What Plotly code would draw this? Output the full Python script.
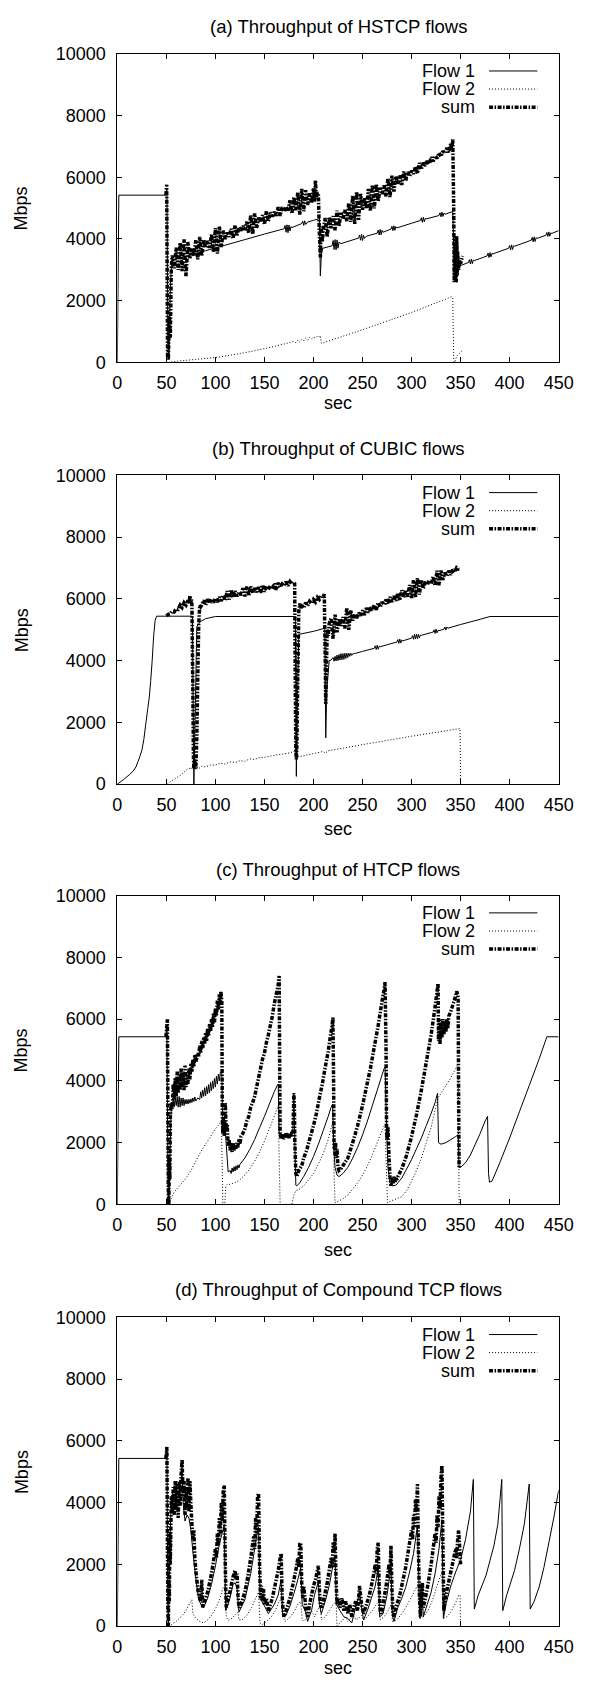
import plotly.graph_objects as go

# ---------------- data (seconds, Mbps) ----------------
X_TICKS = [0, 50, 100, 150, 200, 250, 300, 350, 400, 450]
Y_TICKS = [0, 2000, 4000, 6000, 8000, 10000]
TITLES = ["(a) Throughput of HSTCP flows", "(b) Throughput of CUBIC flows",
          "(c) Throughput of HTCP flows", "(d) Throughput of Compound TCP flows"]
SERIES_NAMES = ["Flow 1", "Flow 2", "sum"]

A_FLOW1 = [(0,0),(1.5,5420),(49.5,5420),(50.5,5650),(51.5,900),(52.5,100),(54,2400),(55.5,3320),(70,3440),(90,3620),(110,3800),(130,3980),(150,4160),(170,4330),(171,4440),(172,4220),(173,4460),(174,4200),(175,4450),(176,4260),(177,4400),(178,4370),(188,4500),(189,4580),(190,4440),(191,4590),(192,4470),(194,4550),(200,4605),(205,4650),(206,4680),(207,2800),(208,3500),(209.5,3700),(219,3780),(220,3950),(221,3660),(222,3980),(223,3650),(224,3970),(225,3700),(226,3900),(228,3850),(246,4030),(247,4130),(248,3960),(249,4150),(250,3950),(251,4120),(252,4020),(254,4090),(265,4190),(266,4290),(267,4130),(268,4310),(269,4140),(270,4280),(271,4220),(279,4320),(280,4410),(281,4270),(282,4430),(283,4280),(284,4400),(285,4360),(300,4510),(309,4600),(310,4690),(311,4540),(312,4700),(313,4560),(314,4670),(315,4650),(328,4760),(329,4850),(330,4720),(331,4870),(332,4730),(333,4840),(334,4800),(341,4880),(342,4900),(343,3800),(344,2700),(345,3600),(346,2600),(347,3900),(348,3000),(349,3150),(351,3150),(358,3240),(359,3330),(360,3190),(361,3350),(362,3200),(363,3320),(364,3300),(377,3450),(378,3540),(379,3400),(380,3560),(381,3420),(382,3530),(383,3520),(399,3700),(400,3790),(401,3650),(402,3810),(403,3660),(404,3780),(405,3765),(422,3960),(423,4050),(424,3910),(425,4070),(426,3920),(427,4040),(428,4020),(437,4120),(438,4210),(439,4080),(440,4230),(441,4090),(442,4200),(443,4180),(450,4270)]
A_FLOW2 = [(52,0),(60,40),(80,100),(100,160),(120,260),(140,380),(160,520),(170,600),(180,680),(182,640),(184,720),(186,660),(188,740),(190,700),(192,780),(194,720),(196,810),(198,760),(200,820),(202,790),(204,860),(206,840),(207,870),(208,620),(210,640),(250,1060),(300,1620),(341,2130),(342,2100),(343,60),(344,0),(346,200),(348,270),(350,330),(353,420)]
A_SUM = [(49.5,5420),(50.3,5760),(51.2,200),(52,100),(53,1500),(54,800),(55,3100),(56,3470),(58,3050),(60,3720),(62,3000),(64,3880),(66,2960),(68,3990),(70,2800),(72,3900),(74,3380),(76,3710),(78,3440),(80,3960),(82,3340),(84,4070),(86,3450),(88,3980),(90,3710),(92,3940),(94,3720),(96,4150),(98,3570),(100,4350),(102,3530),(104,4410),(106,3740),(108,4270),(110,4000),(112,4210),(114,4070),(116,4330),(118,4010),(120,4440),(122,4120),(124,4380),(126,4270),(128,4420),(130,4300),(132,4560),(134,4190),(136,4770),(138,4150),(140,4830),(142,4360),(144,4690),(146,4540),(148,4770),(150,4470),(152,4900),(154,4580),(156,4860),(158,4730),(160,4880),(162,4750),(164,5030),(166,4750),(168,5030),(170,4900),(172,5050),(174,4920),(176,5250),(178,4820),(180,5350),(182,4930),(184,5510),(186,4790),(188,5620),(190,4900),(192,5580),(194,5100),(196,5480),(198,5160),(200,5640),(201,5200),(202,5900),(203,5300),(204,5500),(205,5450),(206,4200),(207,3400),(208,4400),(209,3900),(210,4300),(212,4680),(214,4070),(216,4710),(218,4350),(220,4740),(222,4280),(224,4920),(226,4410),(228,4850),(230,4650),(232,4940),(234,4580),(236,5170),(238,4560),(240,5400),(242,4490),(244,5530),(246,4620),(248,5460),(250,4950),(252,5340),(254,4980),(256,5620),(258,4910),(260,5750),(262,4990),(264,5780),(266,5220),(268,5660),(270,5450),(272,5740),(274,5380),(276,5970),(278,5360),(280,6050),(282,5540),(284,6030),(286,5770),(288,6060),(290,5750),(292,6190),(294,5880),(296,6170),(298,6030),(300,6210),(302,6110),(304,6350),(306,6120),(308,6460),(310,6250),(312,6470),(314,6370),(316,6530),(318,6430),(320,6650),(322,6510),(324,6690),(326,6610),(328,6790),(330,6670),(332,6850),(334,6770),(336,6950),(338,6810),(340,7100),(341,6900),(342,7250),(343,5000),(343.5,2600),(344,4100),(344.5,2700),(345,3900),(345.5,2600),(346,4100),(346.5,2800),(347,3600),(348,3000),(349,3300),(350,3200),(352,3450)]

B_FLOW1 = [(0,0),(6,140),(12,300),(16,420),(19,560),(21,730),(23,900),(25,1100),(27,1450),(29,1950),(31,2450),(32.5,2800),(34,3350),(35.5,4000),(37,4800),(38.5,5300),(40,5440),(76.5,5440),(78,0),(79.5,2500),(81,5100),(84,5250),(90,5360),(100,5430),(181.5,5430),(182.5,250),(183.5,2500),(185,4850),(200,4950),(211.5,5050),(212.5,1500),(213.5,3000),(216,4000),(218,4020),(220,4100),(221,3980),(222,4140),(223,3990),(224,4180),(225,4000),(226,4200),(227,4020),(228,4230),(229,4030),(230,4230),(231,4040),(232,4240),(233,4070),(234,4240),(235,4100),(236,4240),(237,4140),(238,4240),(239,4170),(240,4220),(242,4230),(250,4300),(262,4400),(263,4480),(264,4360),(265,4500),(266,4370),(267,4470),(268,4450),(280,4560),(285,4600),(286,4680),(287,4560),(288,4700),(289,4570),(290,4670),(291,4640),(300,4730),(301,4810),(302,4690),(303,4850),(304,4700),(305,4860),(306,4710),(307,4850),(308,4740),(309,4830),(310,4820),(320,4910),(322,4925),(323,5000),(324,4880),(325,5020),(326,4900),(327,4980),(328,4970),(333,5020),(334,5090),(335,4990),(336,5090),(337,5050),(350,5170),(370,5340),(380,5430),(450,5430)]
B_FLOW2 = [(51,0),(55,100),(60,200),(65,300),(70,450),(73,520),(75,480),(76,550),(77,500),(78,530),(80,480),(82,560),(84,520),(86,580),(90,560),(95,620),(100,620),(105,680),(110,650),(115,720),(120,700),(125,760),(130,740),(135,820),(140,800),(145,860),(150,870),(155,900),(160,930),(165,960),(170,980),(175,1010),(180,1050),(181,1100),(182,1000),(184,880),(190,920),(200,990),(210,1060),(212,1000),(215,1080),(250,1280),(300,1550),(349.5,1800),(350,0)]
B_SUM = [(50,5450),(52,5500),(54,5520),(56,5600),(58,5580),(60,5680),(62,5660),(64,5800),(66,5720),(68,5880),(70,5800),(72,5950),(73,5870),(74,6100),(75,5900),(75.5,6000),(76,5800),(77,3000),(77.5,1000),(78,500),(79,800),(80,500),(81,1500),(82,3500),(83,5200),(84,5800),(85,5750),(86,5800),(88,5950),(90,5800),(92,5990),(94,5850),(96,6000),(98,5880),(100,6020),(102,5900),(104,6060),(106,5930),(108,6120),(110,5950),(112,6250),(114,5980),(116,6300),(118,6040),(120,6250),(122,6080),(124,6230),(126,6120),(128,6350),(130,6080),(132,6400),(134,6100),(136,6400),(138,6180),(140,6350),(142,6220),(144,6380),(146,6200),(148,6450),(150,6230),(152,6420),(154,6300),(156,6430),(158,6320),(160,6500),(162,6300),(164,6520),(166,6380),(168,6480),(170,6420),(172,6560),(174,6430),(176,6560),(178,6480),(180,6550),(180.8,6500),(181.5,3000),(182,1100),(182.5,800),(183,1200),(184,3500),(185,5600),(186,5850),(187,5700),(188,5800),(190,5700),(192,5880),(194,5780),(196,5920),(198,5850),(200,5980),(202,5900),(204,6050),(206,5980),(208,6100),(210,6080),(211,6150),(212,4000),(212.5,2600),(213,3500),(214,5000),(215,4800),(216,5200),(218,5380),(220,4710),(222,5490),(224,4920),(226,5350),(228,5130),(230,5410),(232,5040),(234,5720),(236,5000),(238,5630),(240,5300),(242,5510),(244,5380),(246,5550),(248,5460),(250,5630),(252,5480),(254,5710),(256,5560),(258,5720),(260,5630),(262,5800),(264,5650),(266,5880),(268,5730),(270,5900),(272,5810),(274,5980),(276,5830),(278,6060),(280,5900),(282,6090),(284,5940),(286,6190),(288,5950),(290,6280),(292,6040),(294,6290),(296,6070),(298,6450),(300,6030),(302,6610),(304,6040),(306,6670),(308,6140),(310,6620),(312,6330),(314,6560),(316,6450),(318,6600),(320,6490),(322,6720),(324,6430),(326,6910),(328,6440),(330,6920),(332,6620),(334,6850),(336,6740),(338,6910),(340,6780),(342,6950),(344,6860),(346,7010),(348,6960),(350,6950)]

C_FLOW1 = [(0,0),(1.5,5430),(49.5,5430),(50.5,5800),(51.5,1000),(52.5,100),(54,2000),(55,3300),(56,3150),(57,3450),(58,3150),(59,3450),(60,3200),(61,3480),(62,3150),(63,3500),(64,3150),(65,3450),(66,3200),(67,3450),(68,3200),(69,3400),(70,3250),(71,3400),(72,3250),(73,3400),(74,3280),(75,3420),(76,3300),(77,3450),(78,3330),(79,3480),(80,3350),(82,3450),(84,3400),(85,3650),(86,3450),(87,3700),(88,3500),(89,3780),(90,3520),(91,3820),(92,3580),(93,3880),(94,3620),(95,3950),(96,3680),(97,4000),(98,3750),(99,4080),(100,3800),(101,4150),(102,3900),(103,4220),(104,4000),(105,4280),(106.5,4250),(107.5,2600),(110,2400),(112,1500),(113,1050),(115,1100),(116,1000),(117,1180),(118,1050),(119,1220),(120,1080),(121,1250),(122,1120),(123,1280),(124,1180),(125,1300),(130,1500),(135,1780),(140,2100),(145,2480),(150,2850),(155,3250),(160,3650),(163,3850),(164,3900),(165,2300),(166,2150),(167,2280),(168,2120),(169,2250),(170,2180),(171,2300),(172,2150),(173,2250),(174,2200),(175,2280),(176,2200),(177,2330),(178,2250),(179,2400),(180,3600),(181,2000),(182,620),(183,600),(186,700),(190,900),(195,1200),(200,1550),(205,1950),(210,2400),(215,2850),(218,3150),(219.5,3250),(220.5,2000),(222,1200),(224,950),(226,900),(230,1000),(235,1200),(240,1500),(245,1850),(250,2250),(255,2700),(260,3200),(265,3700),(270,4200),(272,4400),(273,4450),(274.5,2500),(276,1200),(278,700),(280,600),(284,620),(290,850),(295,1150),(300,1450),(305,1800),(310,2150),(315,2550),(320,2950),(324,3300),(326.5,3600),(327.5,2000),(330,1950),(335,2000),(340,2100),(345,2200),(347.5,2250),(348.5,1200),(350,1200),(355,1350),(360,1600),(365,1950),(370,2300),(375,2700),(377.5,2850),(378.5,1000),(379.5,720),(382,750),(390,1350),(400,2150),(410,3000),(420,3850),(430,4700),(438,5430),(450,5430)]
C_FLOW2 = [(52,0),(55,200),(58,400),(62,550),(66,700),(70,850),(75,1100),(80,1400),(85,1700),(90,1950),(95,2200),(100,2450),(104,2600),(106,2700),(106.8,1500),(107.5,0),(109.5,0),(110.5,600),(112,650),(115,650),(120,700),(125,800),(130,950),(135,1150),(140,1400),(145,1700),(150,2050),(155,2450),(160,2850),(164,3200),(165,1500),(166,0),(178,0),(180,300),(182,450),(185,480),(190,600),(195,800),(200,1000),(205,1300),(210,1650),(215,2100),(219,2600),(220,2700),(221,1000),(222,50),(225,100),(230,180),(235,300),(240,500),(245,700),(250,950),(255,1250),(260,1600),(265,2000),(270,2400),(273,2600),(274.5,1000),(275.5,50),(278,100),(282,150),(286,200),(290,250),(295,450),(300,750),(305,1100),(310,1500),(315,2000),(320,2500),(325,3200),(327,3450),(330,3600),(335,3850),(340,4100),(345,4400),(347.5,4550),(348.5,0)]
C_SUM = [(49.5,5430),(50.5,5800),(51,6000),(51.5,3000),(52,200),(52.5,0),(53,1500),(53.5,800),(54,2800),(55,3300),(56,3100),(57,3900),(58,3400),(59,4100),(60,3500),(61,4300),(62,3600),(63,4200),(64,3700),(65,4400),(66,3800),(67,4300),(68,3700),(69,4500),(70,3800),(71,4200),(72,3900),(73,4400),(74,4050),(75,4550),(76,4300),(77,4700),(78,4450),(79,4850),(80,4600),(82,4900),(83,4800),(84,5150),(85,4900),(86,5300),(87,5050),(88,5400),(89,5200),(90,5550),(91,5300),(92,5700),(93,5450),(94,5850),(95,5600),(96,6000),(97,5750),(98,6200),(99,5900),(100,6350),(101,6100),(102,6600),(103,6300),(104,6800),(105,6500),(105.5,6900),(106.5,6600),(107,3000),(107.5,2300),(108,2800),(109,2200),(110,3300),(111,2400),(112,2600),(113,1900),(114,2100),(115,1750),(116,1950),(117,1700),(118,2000),(119,1750),(120,1950),(121,1800),(122,2000),(123,1850),(124,2100),(125,1950),(126,2200),(128,2300),(130,2450),(132,2700),(134,2850),(136,3150),(138,3300),(140,3500),(142,3800),(144,4100),(146,4400),(148,4700),(150,4900),(152,5250),(154,5500),(156,5800),(158,6100),(160,6500),(162,6800),(164,7100),(165,7400),(165.5,4500),(166,2300),(167,2150),(168,2300),(169,2100),(170,2250),(171,2150),(172,2300),(173,2200),(174,2280),(175,2150),(176,2300),(177,2200),(178,2350),(179,2300),(180,3600),(180.5,3200),(181,2000),(182,1000),(183,900),(185,1100),(188,1250),(190,1500),(193,1750),(196,2100),(200,2550),(203,2950),(206,3450),(209,3900),(212,4450),(215,4950),(217,5400),(219,5800),(219.8,6050),(220.5,4000),(221,1800),(221.5,2000),(222,1600),(222.5,2000),(223,1500),(224,1800),(225,1200),(226,1100),(228,1150),(230,1250),(235,1500),(240,2000),(245,2550),(250,3200),(255,3950),(258,4400),(260,4750),(262,5100),(264,5450),(266,5800),(268,6200),(270,6600),(272,6950),(273,7200),(274,5000),(274.5,2500),(275,2100),(276,2500),(277,1500),(278,900),(279,600),(280,850),(281,650),(282,900),(283,700),(284,850),(285,800),(286,900),(290,1150),(295,1600),(300,2200),(305,2900),(310,3700),(315,4600),(320,5500),(324,6400),(326,6900),(327,7150),(327.5,5300),(328.5,6000),(329,5200),(330,5900),(331,5400),(332,6000),(333,5500),(334,5900),(335,5600),(336,6000),(337,5700),(338,6100),(340,6250),(342,6450),(344,6650),(346,6900),(347,6800),(347.5,6700),(348,3500),(348.5,1200)]

D_FLOW1 = [(0,0),(1.5,5430),(49.5,5430),(50.5,5800),(51.5,500),(52,0),(53.5,2600),(55,4100),(57,4400),(59,4500),(61,4450),(63,4550),(65,4700),(66,5200),(67,4000),(69,3400),(71,3600),(73,3500),(75,3100),(77,2400),(80,1550),(83,850),(86,650),(88,600),(92,900),(96,1350),(100,1950),(104,2650),(108,3150),(109,3300),(110.5,500),(114,800),(118,1350),(120,1400),(122,1250),(124,450),(130,850),(136,1700),(140,2500),(143,3100),(144,3200),(145.5,900),(150,650),(154,400),(160,700),(164,1000),(167,1500),(168.5,300),(172,350),(176,650),(180,1050),(184,1500),(187,1900),(188.5,700),(192,450),(194,150),(198,500),(201,1000),(205,1450),(206,700),(208,400),(212,800),(216,1300),(220,2000),(222,2200),(223.5,700),(227,500),(231,300),(235,250),(239,100),(243,600),(247,1050),(251,200),(255,500),(259,900),(263,1300),(266,1900),(267.5,300),(271,400),(275,1000),(279,1900),(280.5,350),(282,150),(286,600),(290,900),(294,1250),(298,1750),(302,2350),(306,3250),(308.5,250),(311,1000),(312,300),(316,700),(320,1100),(324,1700),(328,2500),(331,3450),(332.5,250),(335,700),(340,1300),(345,1750),(350,2150),(355,2800),(360,3700),(363,4750),(364,550),(368,1000),(376,1650),(384,2600),(388,3300),(392,4750),(393,500),(397,1000),(405,1800),(410,2500),(415,3300),(420,4600),(421,550),(425,800),(430,1250),(435,1900),(440,2700),(445,3500),(450,4400)]
D_FLOW2 = [(52,0),(55,50),(60,150),(65,300),(70,500),(74,750),(76,850),(77,400),(80,250),(84,150),(88,100),(92,200),(96,350),(100,550),(104,850),(108,1250),(110,1300),(111,300),(113,180),(117,250),(121,400),(123,450),(124,200),(127,200),(132,350),(137,600),(141,900),(144,1100),(145.5,100),(148,50),(152,150),(157,300),(161,500),(165,800),(168,900),(169,300),(171,150),(175,250),(180,450),(184,700),(187,800),(188.5,200),(190,150),(194,300),(198,500),(201,300),(204,500),(207,700),(208,200),(212,300),(216,500),(220,700),(223,800),(224,0),(227,100),(230,200),(233,300),(235,150),(238,250),(241,350),(243,200),(246,250),(249,350),(251,200),(255,300),(260,500),(264,700),(267,800),(268,200),(272,300),(276,500),(279,700),(280.5,150),(285,200),(290,400),(295,650),(300,950),(305,1250),(307,1350),(308.5,250),(312,300),(317,500),(322,900),(327,1400),(331,1750),(332.5,250),(336,300),(340,450),(345,750),(348,1000),(349.5,1000),(350,0)]
D_SUM = [(49.5,5430),(50.5,5800),(51,3000),(51.5,500),(52,0),(52.5,1500),(53,800),(53.5,3000),(54,2000),(55,4200),(56,3700),(57,4500),(58,3600),(59,4700),(60,3800),(61,4600),(62,3500),(63,4700),(64,3900),(65,4900),(66,5400),(67,4200),(68,4700),(69,3600),(70,4500),(71,3800),(72,4800),(73,3700),(74,4700),(75,3900),(76,3300),(77,2800),(78,3100),(79,2200),(80,1800),(81,1500),(82,1200),(83,1000),(84,900),(85,800),(86,1500),(87,600),(88,700),(90,900),(92,1100),(94,1400),(96,1700),(98,2100),(100,2500),(101,2200),(102,3000),(103,2600),(104,3500),(105,3000),(106,4000),(107,3400),(108,4400),(109,4550),(110,2000),(111,600),(112,800),(114,1000),(116,1300),(118,1600),(120,1800),(121,1500),(122,1700),(123,1000),(124,600),(125,650),(127,800),(130,1100),(133,1600),(136,2200),(139,2900),(140,2500),(141,3500),(142,3000),(143,4200),(144,4300),(145,2000),(146,900),(147,1300),(148,800),(149,1200),(150,700),(152,900),(154,500),(156,700),(158,900),(160,1200),(162,1500),(164,1800),(166,2200),(167,2350),(168,1000),(169,500),(170,300),(172,500),(174,700),(176,900),(178,1200),(180,1500),(182,1800),(184,2200),(185,1900),(186,2650),(187,2700),(188,1400),(189,900),(190,1300),(191,1000),(192,600),(194,300),(196,700),(198,1000),(200,1300),(202,1500),(204,1800),(205,1950),(206,1200),(207,700),(208,600),(210,800),(212,1100),(214,1400),(216,1800),(218,2200),(219,1900),(220,2700),(221,2400),(222,3000),(223,1500),(224,700),(225,900),(227,600),(229,900),(231,500),(233,800),(235,400),(237,700),(239,300),(241,600),(243,800),(245,500),(247,1300),(249,700),(251,400),(253,600),(255,800),(257,1000),(259,1300),(261,1600),(263,2000),(264,1700),(265,2500),(266,2700),(267,1200),(268,500),(269,400),(271,700),(273,1100),(275,1500),(277,2000),(278,1700),(279,2600),(280,1200),(281,500),(282,300),(284,600),(286,800),(288,1000),(290,1300),(292,1600),(294,1900),(296,2300),(298,2700),(300,3100),(301,2800),(302,3600),(303,3200),(304,4100),(305,3700),(306,4600),(307,2500),(308,1000),(309,300),(310,800),(311,1400),(312,600),(314,900),(316,1200),(318,1600),(320,2000),(322,2500),(324,3000),(325,2700),(326,3600),(327,3200),(328,4200),(329,3800),(330,4800),(331,5200),(332,2500),(333,500),(334,800),(335,1000),(337,1300),(339,1600),(341,1900),(343,2200),(345,2500),(346,2200),(347,2800),(348,3100),(349,2600),(350,2000)]

PANELS = [
    (A_FLOW1, A_FLOW2, A_SUM),
    (B_FLOW1, B_FLOW2, B_SUM),
    (C_FLOW1, C_FLOW2, C_SUM),
    (D_FLOW1, D_FLOW2, D_SUM),
]

# ---------------- layout geometry (pixels) ----------------
W, H = 592, 1690
PLOT_L, PLOT_R = 116.3, 573.0
PLOT_TOPS = [44.3, 471.0, 896.3, 1323.0]
PLOT_H = 312.4
TITLE_Y = [16.7, 444.0, 870.0, 1295.0]
SEC_Y = [398.0, 829.0, 1255.0, 1678.0]
FONT = "Liberation Sans, Arial, Helvetica, sans-serif"

def pxx(x):
    return x / W

def pxy(y):
    return 1 - y / H

STYLES = [
    dict(color="black", width=1),
    dict(color="black", width=1, dash="1px,2px"),
    dict(color="black", width=3.5, dash="4px,1.5px,1.5px,1.5px"),
]

fig = go.Figure()
annotations = []
shapes = []

for i, series in enumerate(PANELS):
    n = "" if i == 0 else str(i + 1)
    for s_idx, data in enumerate(series):
        fig.add_trace(go.Scatter(
            x=[p[0] for p in data], y=[p[1] for p in data],
            mode="lines", line=dict(simplify=False, **STYLES[s_idx]),
            xaxis="x" + n, yaxis="y" + n, showlegend=False,
            name=SERIES_NAMES[s_idx], hoverinfo="skip"))
    top = PLOT_TOPS[i]
    bottom = top + PLOT_H
    axis_common = dict(showline=True, linecolor="black", linewidth=1, mirror="ticks",
                       ticks="inside", ticklen=5, tickcolor="black", tickwidth=1,
                       showgrid=False, zeroline=False,
                       tickfont=dict(family=FONT, size=18, color="black"))
    fig.update_layout(**{
        "xaxis" + n: dict(domain=[pxx(PLOT_L), pxx(PLOT_R)], range=[0, 450],
                          anchor="y" + n, tickvals=X_TICKS,
                          ticktext=[str(v) for v in X_TICKS], ticklabelstandoff=4,
                          **axis_common),
        "yaxis" + n: dict(domain=[pxy(bottom), pxy(top)], range=[0, 10000],
                          anchor="x" + n, tickvals=Y_TICKS,
                          ticktext=[str(v) for v in Y_TICKS], ticklabelstandoff=7,
                          **axis_common),
    })
    cx = (PLOT_L + PLOT_R) / 2
    annotations.append(dict(text=TITLES[i], x=pxx(cx), y=pxy(TITLE_Y[i]), xref="paper",
                            yref="paper", showarrow=False, xanchor="center", yanchor="middle",
                            font=dict(family=FONT, size=18.5, color="black")))
    annotations.append(dict(text="sec", x=pxx(cx), y=pxy(SEC_Y[i]), xref="paper",
                            yref="paper", showarrow=False, xanchor="center", yanchor="middle",
                            font=dict(family=FONT, size=18, color="black")))
    annotations.append(dict(text="Mbps", x=pxx(17), y=pxy(top + PLOT_H / 2), xref="paper",
                            yref="paper", showarrow=False, xanchor="center", yanchor="middle",
                            textangle=-90, font=dict(family=FONT, size=18, color="black")))
    # legend (text right-aligned, sample line to the right)
    for k, name in enumerate(SERIES_NAMES):
        ly = top + 17.4 + k * 18.3
        annotations.append(dict(text=name, x=pxx(489), y=pxy(ly), xref="paper", yref="paper",
                                showarrow=False, xanchor="right", yanchor="middle",
                                font=dict(family=FONT, size=18, color="black")))
        shapes.append(dict(type="line", xref="paper", yref="paper",
                           x0=pxx(501), x1=pxx(551), y0=pxy(ly), y1=pxy(ly),
                           line=STYLES[k]))

fig.update_layout(width=W, height=H, margin=dict(l=0, r=0, t=0, b=0),
                  paper_bgcolor="white", plot_bgcolor="white",
                  annotations=annotations, shapes=shapes,
                  font=dict(family=FONT, color="black"))

fig.write_html("out.html", config={"displayModeBar": False},
               post_script="document.body.style.margin='0px';")
